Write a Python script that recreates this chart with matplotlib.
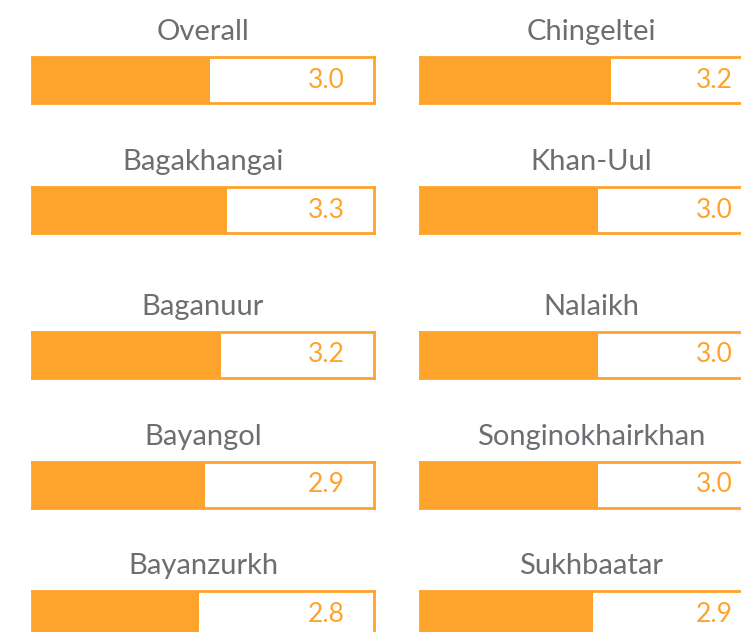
import matplotlib.pyplot as plt

# Районы и средние оценки (подписи округлены до одного знака)
left_names = ['Overall', 'Bagakhangai', 'Baganuur', 'Bayangol', 'Bayanzurkh']
left_scores = [3.02, 3.30, 3.21, 2.94, 2.84]
right_names = ['Chingeltei', 'Khan-Uul', 'Nalaikh', 'Songinokhairkhan', 'Sukhbaatar']
right_scores = [3.24, 3.02, 3.02, 3.02, 2.94]
scale_max = 5.8

orange = '#FEA42C'
grey = '#6D6E71'
plt.rcParams['font.family'] = ['Lato', 'DejaVu Sans']

W, H = 741, 632
fig = plt.figure(figsize=(W / 100, H / 100), dpi=100)

box_w, box_h = 342, 46
box_tops = [57, 187, 332, 462, 591]
col_lefts = [32, 420]


def draw_bar(x0, y_top, name, score):
    ax = fig.add_axes([x0 / W, 1 - (y_top + box_h) / H, box_w / W, box_h / H])
    ax.barh(0, score, height=1, color=orange, linewidth=0)
    ax.set_xlim(0, scale_max)
    ax.set_ylim(-0.5, 0.5)
    ax.set_xticks([])
    ax.set_yticks([])
    for s in ax.spines.values():
        s.set_color(orange)
        s.set_linewidth(2)
    ax.text(1 - 29 / box_w, 0.5, f'{score:.1f}', transform=ax.transAxes,
            ha='right', va='center', color=orange, fontsize=19)
    ax.text(0.5, 1 + 25 / box_h, name, transform=ax.transAxes,
            ha='center', va='center', color=grey, fontsize=21)


for name, score, top in zip(left_names, left_scores, box_tops):
    draw_bar(col_lefts[0], top, name, score)
for name, score, top in zip(right_names, right_scores, box_tops):
    draw_bar(col_lefts[1], top, name, score)

fig.savefig('out.png', dpi=100)
